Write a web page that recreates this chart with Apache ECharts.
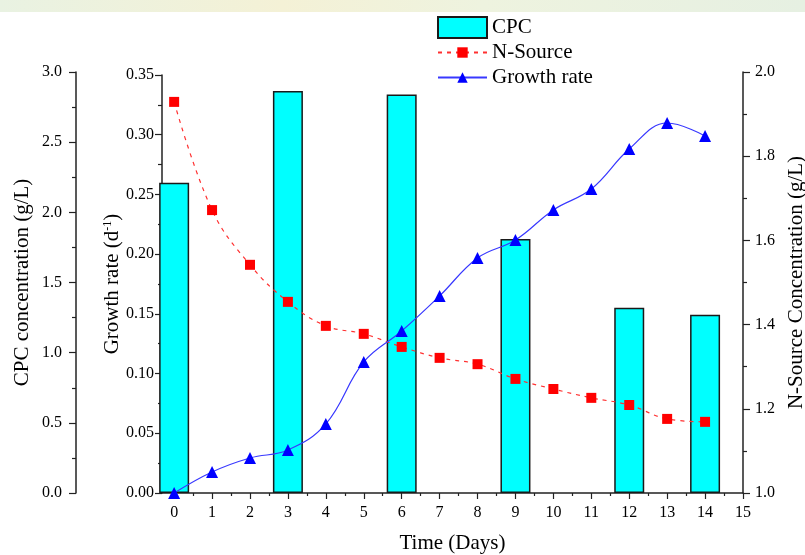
<!DOCTYPE html>
<html>
<head>
<meta charset="utf-8">
<script src="https://cdn.jsdelivr.net/npm/echarts@6/dist/echarts.min.js"></script>
<style>
html, body { margin: 0; padding: 0; background: #ffffff; }
#chart { width: 805px; height: 555px; }
</style>
</head>
<body>
<div id="chart"></div>
<script>
// Culture time course: CPC titre (bars), nitrogen source and growth rate (lines)
const days = [0, 1, 2, 3, 4, 5, 6, 7, 8, 9, 10, 11, 12, 13, 14];
const cpcDays = [0, 3, 6, 9, 12, 14];
const cpcValues = [2.21, 2.865, 2.84, 1.81, 1.32, 1.27];          // g/L
const nSource = [1.929, 1.672, 1.542, 1.454, 1.397, 1.378, 1.347, 1.321,
                 1.306, 1.271, 1.247, 1.226, 1.209, 1.176, 1.169];   // g/L
const growthRate = [0.000, 0.0176, 0.0293, 0.036, 0.0578, 0.1097, 0.1356, 0.165,
                    0.1968, 0.2118, 0.237, 0.2545, 0.288, 0.3098, 0.299]; // d^-1
const xTickValues = [0, 1, 2, 3, 4, 5, 6, 7, 8, 9, 10, 11, 12, 13, 14, 15];
const xMinorTickValues = [0.5, 1.5, 2.5, 3.5, 4.5, 5.5, 6.5, 7.5, 8.5, 9.5, 10.5, 11.5, 12.5, 13.5, 14.5];

const FONT = 'Liberation Serif';
const AXIS_COLOR = '#222222';
const axisLine = { show: true, onZero: false, lineStyle: { color: AXIS_COLOR, width: 1.5 } };
const labelStyle = { color: '#000', fontFamily: FONT, fontSize: 16 };
const nameStyle = { color: '#000', fontFamily: FONT, fontSize: 21 };

const chart = echarts.init(document.getElementById('chart'), null, { renderer: 'canvas' });

chart.setOption({
  animation: false,
  backgroundColor: '#ffffff',
  graphic: [{
    type: 'rect',
    shape: { x: 0, y: 0, width: 805, height: 12 },
    style: {
      fill: new echarts.graphic.LinearGradient(0, 0, 1, 0, [
        { offset: 0, color: '#e9f2e2' },
        { offset: 0.35, color: '#f4f1d6' },
        { offset: 0.6, color: '#eef3df' },
        { offset: 1, color: '#e6f0e2' }
      ])
    },
    silent: true,
    z: -10
  }],
  grid: [
    { left: 162, right: 62, top: 72, bottom: 62, containLabel: false, outerBoundsMode: 'none' },
    { left: 162, right: 62, top: 75, bottom: 62, containLabel: false, outerBoundsMode: 'none' }
  ],
  legend: [
    {
      data: ['CPC'],
      left: 437, top: 16,
      padding: 0,
      itemWidth: 49, itemHeight: 21,
      icon: 'rect',
      selectedMode: false,
      textStyle: nameStyle
    },
    {
      data: ['N-Source', 'Growth rate'],
      orient: 'vertical',
      left: 437, top: 42,
      padding: 0,
      itemWidth: 49, itemHeight: 13, itemGap: 4,
      selectedMode: false,
      textStyle: nameStyle
    }
  ],
  xAxis: [
    {
      gridIndex: 0,
      type: 'value',
      min: -0.32, max: 15,
      name: 'Time (Days)',
      nameLocation: 'middle',
      nameGap: 40,
      nameMoveOverlap: false,
      nameTextStyle: nameStyle,
      axisLine: axisLine,
      axisTick: { show: true, customValues: xTickValues, length: 6, lineStyle: { color: AXIS_COLOR, width: 1.2 } },
      axisLabel: { show: true, customValues: xTickValues, margin: 12, ...labelStyle },
      splitLine: { show: false }
    },
    {
      gridIndex: 0,
      type: 'value',
      min: -0.32, max: 15,
      position: 'bottom',
      axisLine: { show: false, onZero: false },
      axisTick: { show: true, customValues: xMinorTickValues, length: 3, lineStyle: { color: AXIS_COLOR, width: 1.2 } },
      axisLabel: { show: false },
      splitLine: { show: false }
    },
    {
      gridIndex: 1,
      type: 'value',
      min: -0.32, max: 15,
      show: false
    }
  ],
  yAxis: [
    {
      gridIndex: 0,
      type: 'value',
      position: 'left',
      offset: 86,
      min: 0, max: 3, interval: 0.5,
      name: 'CPC concentration (g/L)',
      nameLocation: 'middle',
      nameGap: 43,
      nameMoveOverlap: false,
      nameTextStyle: nameStyle,
      axisLine: axisLine,
      axisTick: { show: true, length: 7, lineStyle: { color: AXIS_COLOR, width: 1.2 } },
      minorTick: { show: true, splitNumber: 2, length: 4, lineStyle: { color: AXIS_COLOR, width: 1.2 } },
      axisLabel: { margin: 14, formatter: v => v.toFixed(1), ...labelStyle },
      splitLine: { show: false }
    },
    {
      gridIndex: 1,
      type: 'value',
      position: 'left',
      min: 0, max: 0.35, interval: 0.05,
      name: 'Growth rate (d{sup|-1})',
      nameLocation: 'middle',
      nameGap: 39,
      nameMoveOverlap: false,
      nameTextStyle: {
        ...nameStyle,
        rich: {
          sup: { fontFamily: FONT, fontSize: 12, color: '#000', verticalAlign: 'top', padding: [0, 0, 8, 0] }
        }
      },
      axisLine: axisLine,
      axisTick: { show: true, length: 7, lineStyle: { color: AXIS_COLOR, width: 1.2 } },
      minorTick: { show: true, splitNumber: 2, length: 4, lineStyle: { color: AXIS_COLOR, width: 1.2 } },
      axisLabel: { margin: 8, formatter: v => v.toFixed(2), ...labelStyle },
      splitLine: { show: false }
    },
    {
      gridIndex: 0,
      type: 'value',
      position: 'right',
      min: 1, max: 2, interval: 0.2,
      name: 'N-Source Concentration (g/L)',
      nameLocation: 'middle',
      nameGap: 43,
      nameMoveOverlap: false,
      nameTextStyle: nameStyle,
      axisLine: axisLine,
      axisTick: { show: true, length: 7, lineStyle: { color: AXIS_COLOR, width: 1.2 } },
      minorTick: { show: true, splitNumber: 2, length: 4, lineStyle: { color: AXIS_COLOR, width: 1.2 } },
      axisLabel: { margin: 12, formatter: v => v.toFixed(1), ...labelStyle },
      splitLine: { show: false }
    }
  ],
  series: [
    {
      name: 'CPC',
      type: 'bar',
      xAxisIndex: 0,
      yAxisIndex: 0,
      data: cpcDays.map((d, i) => [d, cpcValues[i]]),
      barWidth: 30,
      clip: true,
      itemStyle: { color: '#00FFFF', borderColor: '#1a1a1a', borderWidth: 1.5 },
      z: 1
    },
    {
      name: 'N-Source',
      type: 'line',
      xAxisIndex: 0,
      yAxisIndex: 2,
      data: days.map((d, i) => [d, nSource[i]]),
      smooth: 0.4,
      symbol: 'rect',
      symbolSize: 10,
      itemStyle: { color: '#FF0000' },
      lineStyle: { color: '#FF3030', width: 1.2, type: [4, 5] },
      z: 3
    },
    {
      name: 'Growth rate',
      type: 'line',
      xAxisIndex: 2,
      yAxisIndex: 1,
      data: days.map((d, i) => [d, growthRate[i]]),
      smooth: 0.4,
      symbol: 'triangle',
      symbolSize: 12,
      itemStyle: { color: '#0000FF' },
      lineStyle: { color: '#3838FF', width: 1.2 },
      z: 4
    }
  ]
});
</script>
</body>
</html>
